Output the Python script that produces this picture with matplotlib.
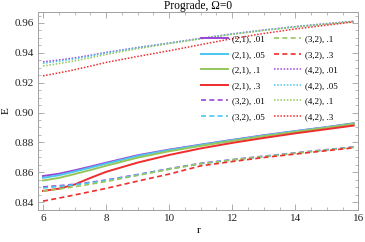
import matplotlib
matplotlib.use('Agg')
import matplotlib.pyplot as plt
from matplotlib.ticker import MultipleLocator

plt.rcParams['font.family'] = ['Liberation Serif', 'DejaVu Serif']

r = [6, 6.5, 7, 7.5, 8, 9, 10, 11, 12, 13, 14, 15, 15.85]

# (2,1) family, solid
e21_01 = [0.8575, 0.8590, 0.8613, 0.8638, 0.8664, 0.8714, 0.8752, 0.8785, 0.8817, 0.8848, 0.8876, 0.8903, 0.8928]
e21_05 = [0.8563, 0.8580, 0.8605, 0.8631, 0.8658, 0.8709, 0.8749, 0.8783, 0.8815, 0.8846, 0.8875, 0.8902, 0.8927]
e21_1 = [0.8545, 0.8562, 0.8588, 0.8615, 0.8644, 0.8698, 0.8741, 0.8777, 0.8810, 0.8842, 0.8871, 0.8899, 0.8924]
e21_3 = [0.8475, 0.8490, 0.8518, 0.8562, 0.8603, 0.8665, 0.8716, 0.8760, 0.8797, 0.8830, 0.8861, 0.8889, 0.8913]

# (3,2) family, dashed
e32_01 = [0.8502, 0.8510, 0.8520, 0.8533, 0.8548, 0.8585, 0.8624, 0.8660, 0.8685, 0.8708, 0.8730, 0.8752, 0.8770]
e32_05 = [0.8495, 0.8505, 0.8516, 0.8530, 0.8545, 0.8583, 0.8622, 0.8658, 0.8683, 0.8706, 0.8728, 0.8750, 0.8768]
e32_1 = [0.8474, 0.8488, 0.8503, 0.8520, 0.8538, 0.8579, 0.8620, 0.8657, 0.8682, 0.8705, 0.8727, 0.8749, 0.8767]
e32_3 = [0.8407, 0.8427, 0.8448, 0.8470, 0.8492, 0.8541, 0.8588, 0.8643, 0.8672, 0.8699, 0.8722, 0.8745, 0.8764]

# (4,2) family, dotted
e42_01 = [0.9340, 0.9352, 0.9366, 0.9384, 0.9403, 0.9436, 0.9466, 0.9497, 0.9527, 0.9553, 0.9576, 0.9596, 0.9612]
e42_05 = [0.9330, 0.9344, 0.9360, 0.9379, 0.9399, 0.9434, 0.9465, 0.9496, 0.9526, 0.9552, 0.9575, 0.9595, 0.9611]
e42_1 = [0.9312, 0.9328, 0.9346, 0.9367, 0.9389, 0.9428, 0.9462, 0.9494, 0.9524, 0.9550, 0.9573, 0.9593, 0.9610]
e42_3 = [0.9246, 0.9266, 0.9287, 0.9311, 0.9336, 0.9376, 0.9414, 0.9455, 0.9495, 0.9530, 0.9560, 0.9586, 0.9607]

eps_labels = ['.01', '.05', '.1', '.3']
colors = ['#9a45d6', '#4cc6ee', '#96c65c', '#ee2d2d']

fig = plt.figure(figsize=(3.65, 2.42), dpi=100)
ax = fig.add_axes([0.104, 0.132, 0.878, 0.818])

families = [('(2,1)', [e21_01, e21_05, e21_1, e21_3], '-', 1.4),
            ('(3,2)', [e32_01, e32_05, e32_1, e32_3], (0, (3, 2)), 1.2),
            ('(4,2)', [e42_01, e42_05, e42_1, e42_3], (0, (1, 1.1)), 1.1)]

for name, series, ls, lw in families:
    for vals, eps, c in zip(series, eps_labels, colors):
        ax.plot(r, vals, color=c, linestyle=ls, linewidth=lw, label=name + ', ' + eps)

ax.set_xlim(5.84, 16.0)
ax.set_ylim(0.8347, 0.9673)
ax.xaxis.set_major_locator(MultipleLocator(2))
ax.xaxis.set_minor_locator(MultipleLocator(0.5))
ax.yaxis.set_major_locator(MultipleLocator(0.02))
ax.yaxis.set_minor_locator(MultipleLocator(0.005))
ax.yaxis.set_major_formatter(plt.FormatStrFormatter('%.2f'))
ax.tick_params(which='both', direction='in', top=True, right=True,
               color='#a0a0a0', labelsize=8, labelcolor='#222222')
ax.tick_params(which='major', length=4, width=0.6, pad=3)
ax.tick_params(which='minor', length=2.2, width=0.5)
for s in ax.spines.values():
    s.set_color('#a0a0a0')
    s.set_linewidth(0.7)

ax.set_title('Prograde, \u03a9=0', fontsize=8.3, pad=2)
ax.set_xlabel('r', fontsize=8, labelpad=2)
ax.set_ylabel('E', fontsize=8, labelpad=3)

ax.legend(ncol=2, loc='upper left', bbox_to_anchor=(0.51, 0.885),
          frameon=False, fontsize=6.5, handlelength=2.9, handletextpad=0.45,
          columnspacing=1.1, labelspacing=0.8, borderpad=0, borderaxespad=0)

fig.savefig('out.png', dpi=100)
